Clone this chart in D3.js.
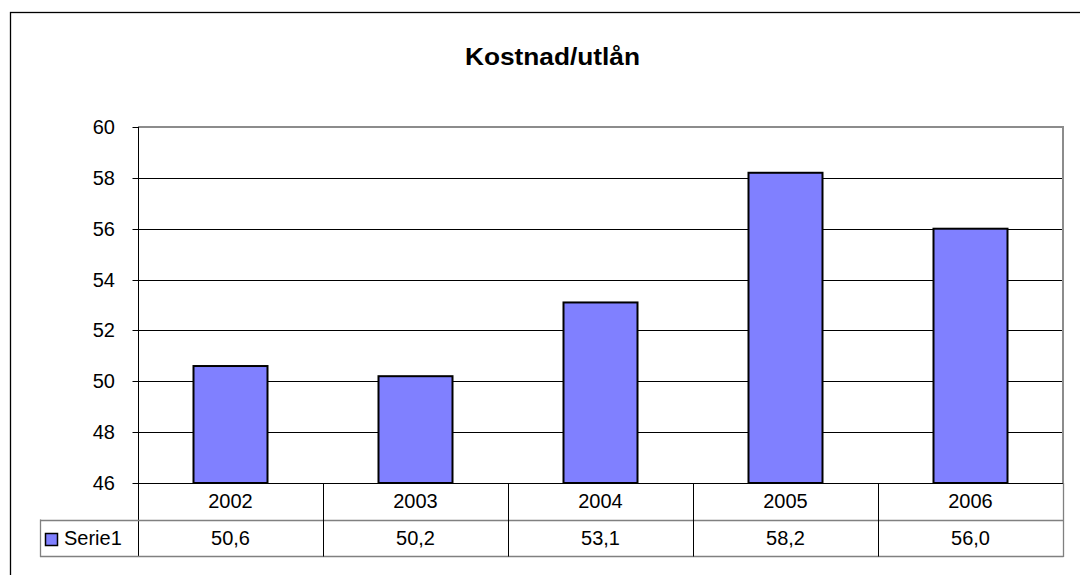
<!DOCTYPE html>
<html>
<head>
<meta charset="utf-8">
<script src="https://cdn.jsdelivr.net/npm/d3@7"></script>
<style>
  body { margin: 0; background: #fff; }
  svg { display: block; font-family: "Liberation Sans", Arial, sans-serif; }
</style>
</head>
<body>
<svg id="chart" width="1080" height="575"></svg>
<script>
const years = ["2002", "2003", "2004", "2005", "2006"];
const serie1 = [50.6, 50.2, 53.1, 58.2, 56.0];
const yTicks = [46, 48, 50, 52, 54, 56, 58, 60];
const seriesName = "Serie1";
const title = "Kostnad/utlån";

const svg = d3.select("#chart");

const plotLeft = 138, plotRight = 1063, plotTop = 127, plotBottom = 483;
const rowH = 36.5;
const fs = 20;

// outer chart frame (runs off the picture to the right and bottom)
svg.append("rect")
    .attr("x", 10.5).attr("y", 12.5)
    .attr("width", 1200).attr("height", 700)
    .attr("fill", "none").attr("stroke", "#000").attr("stroke-width", 1.3);

svg.append("text")
    .attr("x", 465).attr("y", 65)
    .attr("font-size", 23).attr("font-weight", "bold")
    .attr("textLength", 175).attr("lengthAdjust", "spacingAndGlyphs")
    .text(title);

const x = d3.scaleBand().domain(years).range([plotLeft, plotRight]).paddingInner(0.6).paddingOuter(0.3);
const col = d3.scaleBand().domain(years).range([plotLeft, plotRight]);
const y = d3.scaleLinear().domain([46, 60]).range([plotBottom, plotTop]);

// gridlines
svg.append("g")
    .selectAll("line")
    .data(yTicks.filter(t => t > 46 && t < 60))
    .join("line")
    .attr("x1", plotLeft).attr("x2", plotRight)
    .attr("y1", d => Math.round(y(d)) + 0.5).attr("y2", d => Math.round(y(d)) + 0.5)
    .attr("stroke", "#000");

// plot border: gray top and right
svg.append("path")
    .attr("d", `M${plotLeft},${plotTop} H${plotRight} V${plotBottom}`)
    .attr("fill", "none").attr("stroke", "#8c8c8c").attr("stroke-width", 2);

// bars
svg.append("g")
    .selectAll("rect")
    .data(serie1)
    .join("rect")
    .attr("x", (d, i) => x(years[i]))
    .attr("y", d => y(d))
    .attr("width", x.bandwidth())
    .attr("height", d => y(46) - y(d))
    .attr("fill", "#8080ff")
    .attr("stroke", "#000").attr("stroke-width", 2);

// y axis
const yAxis = d3.axisLeft(y).tickValues(yTicks).tickSize(6).tickPadding(17.5).tickFormat(d3.format("d"));
const ya = svg.append("g")
    .attr("transform", `translate(${plotLeft + 0.5},0)`)
    .call(yAxis);
ya.select(".domain").remove();
ya.selectAll(".tick line").attr("stroke", "#000");
ya.selectAll(".tick text").attr("font-size", fs).attr("fill", "#000")
    .attr("font-family", "Liberation Sans, Arial, sans-serif");
ya.selectAll(".tick").attr("transform", d => `translate(0,${Math.round(y(d)) + 0.5})`);
svg.append("line")
    .attr("x1", plotLeft + 0.5).attr("x2", plotLeft + 0.5)
    .attr("y1", plotTop).attr("y2", plotBottom + 2 * rowH + 0.5)
    .attr("stroke", "#000");

// data table
const t = svg.append("g");
t.append("line")
    .attr("x1", plotLeft).attr("x2", plotRight).attr("y1", plotBottom + 0.5).attr("y2", plotBottom + 0.5)
    .attr("stroke", "#000");
[plotBottom + rowH, plotBottom + 2 * rowH].forEach(yy => {
    t.append("line")
        .attr("x1", 40).attr("x2", plotRight + 0.5)
        .attr("y1", Math.round(yy) + 0.5).attr("y2", Math.round(yy) + 0.5)
        .attr("stroke", "#808080").attr("stroke-width", 1.3);
});
t.append("line")
    .attr("x1", 40.5).attr("x2", 40.5)
    .attr("y1", plotBottom + rowH).attr("y2", plotBottom + 2 * rowH + 1)
    .attr("stroke", "#808080").attr("stroke-width", 1.3);
t.selectAll(".sep")
    .data(years.slice(1))
    .join("line")
    .attr("class", "sep")
    .attr("x1", d => Math.round(col(d)) + 0.5).attr("x2", d => Math.round(col(d)) + 0.5)
    .attr("y1", plotBottom).attr("y2", plotBottom + 2 * rowH + 0.5)
    .attr("stroke", "#000");
t.append("line")
    .attr("x1", plotRight + 0.5).attr("x2", plotRight + 0.5)
    .attr("y1", plotBottom).attr("y2", plotBottom + 2 * rowH + 1)
    .attr("stroke", "#808080").attr("stroke-width", 1.3);

t.selectAll(".yr")
    .data(years)
    .join("text")
    .attr("class", "yr")
    .attr("x", d => col(d) + col.bandwidth() / 2)
    .attr("y", plotBottom + 25)
    .attr("text-anchor", "middle").attr("font-size", fs)
    .text(d => d);
t.selectAll(".val")
    .data(serie1)
    .join("text")
    .attr("class", "val")
    .attr("x", (d, i) => col(years[i]) + col.bandwidth() / 2)
    .attr("y", plotBottom + rowH + 25)
    .attr("text-anchor", "middle").attr("font-size", fs)
    .text(d => d3.format(".1f")(d).replace(".", ","));

// legend key
t.append("rect")
    .attr("x", 45.5).attr("y", 533.5).attr("width", 12).attr("height", 12)
    .attr("fill", "#8080ff").attr("stroke", "#000").attr("stroke-width", 1.5);
t.append("text")
    .attr("x", 64).attr("y", plotBottom + rowH + 25)
    .attr("font-size", fs)
    .text(seriesName);
</script>
</body>
</html>
